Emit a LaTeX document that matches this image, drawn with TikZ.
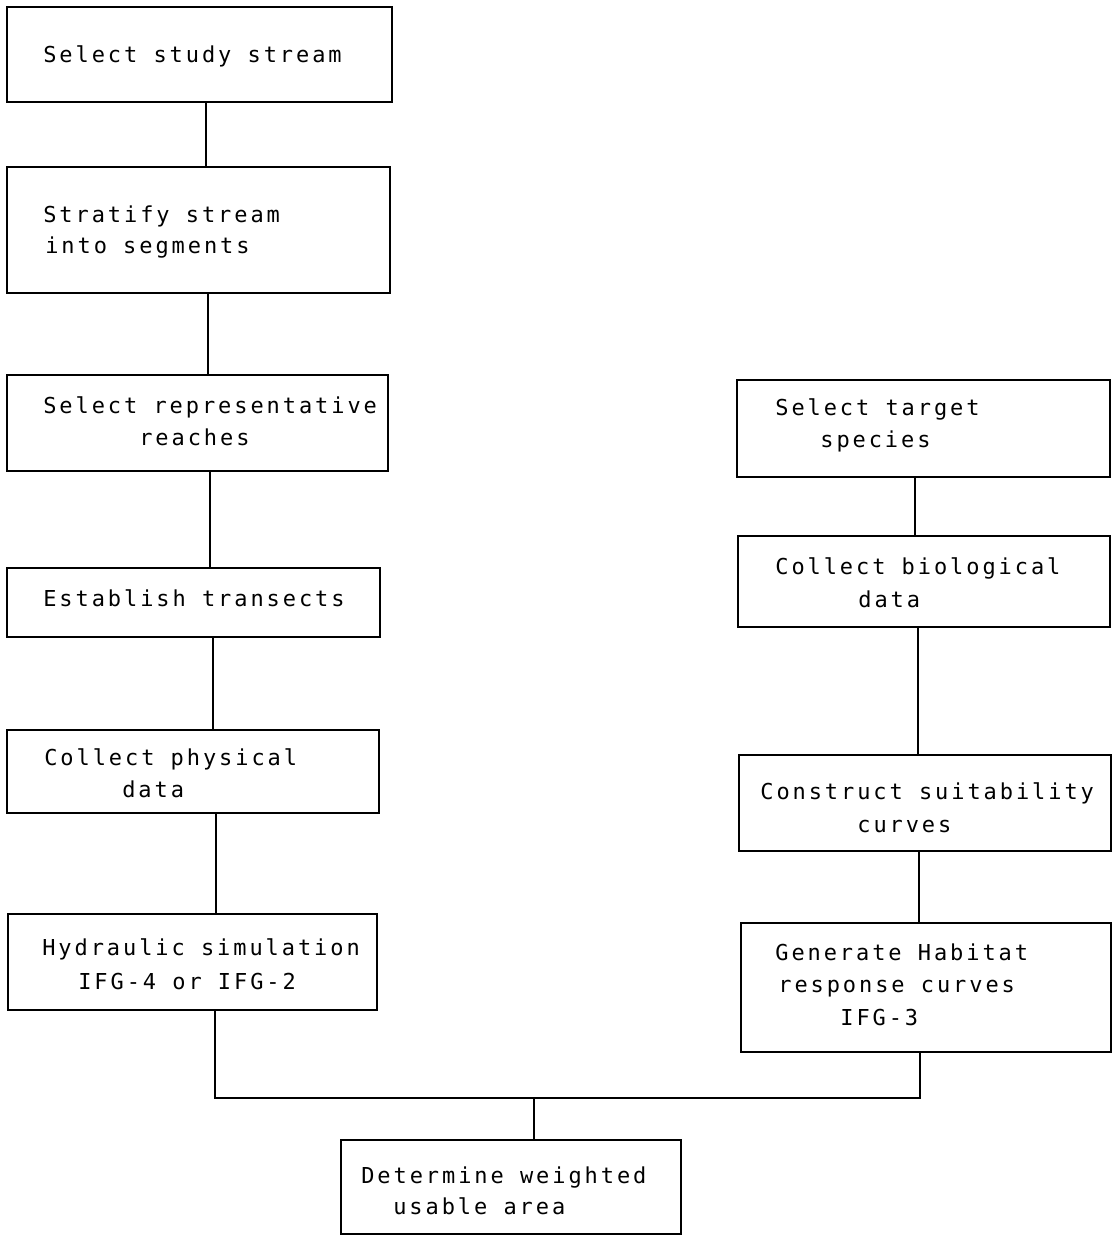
\documentclass[tikz,border=0pt]{standalone}
\usepackage{fontspec}
\newfontfamily\typewriter[LetterSpace=13.4]{DejaVu Sans Mono}
\usetikzlibrary{fit}

\tikzset{
  flowbox/.style={draw, line width=0.9pt, inner sep=0pt},
  txt/.style={anchor=base west, inner sep=0pt, font=\typewriter\fontsize{12.5pt}{15pt}\selectfont},
  link/.style={draw, line width=0.7pt}
}

\begin{document}
\begin{tikzpicture}[x=0.02cm, y=-0.02cm]
  \useasboundingbox (0,0) rectangle (1113,1237);

  % left column
  \node[flowbox, fit={(7,7) (392,102)}] (b1) {};
  \node[flowbox, fit={(7,167) (390,293)}] (b2) {};
  \node[flowbox, fit={(7,375) (388,471)}] (b3) {};
  \node[flowbox, fit={(7,568) (380,637)}] (b4) {};
  \node[flowbox, fit={(7,730) (379,813)}] (b5) {};
  \node[flowbox, fit={(8,914) (377,1010)}] (b6) {};

  % right column
  \node[flowbox, fit={(737,380) (1110,477)}] (b7) {};
  \node[flowbox, fit={(738,536) (1110,627)}] (b8) {};
  \node[flowbox, fit={(739,755) (1111,851)}] (b9) {};
  \node[flowbox, fit={(741,923) (1111,1052)}] (b10) {};

  % bottom
  \node[flowbox, fit={(341,1140) (681,1234)}] (b11) {};

  % texts
  \node[txt] (t1) at (43,63) {Select study stream};
  \node[txt] (t2a) at (43,222) {Stratify stream};
  \node[txt] (t2b) at (45,253) {into segments};
  \node[txt] (t3a) at (43,413) {Select representative};
  \node[txt] (t3b) at (139,445) {reaches};
  \node[txt] (t4) at (43,606) {Establish transects};
  \node[txt] (t5a) at (44,765) {Collect physical};
  \node[txt] (t5b) at (122,797) {data};
  \node[txt] (t6a) at (42,955) {Hydraulic simulation};
  \node[txt] (t6b) at (78,989) {IFG-4 or IFG-2};
  \node[txt] (t7a) at (775,415) {Select target};
  \node[txt] (t7b) at (820,447) {species};
  \node[txt] (t8a) at (775,574) {Collect biological};
  \node[txt] (t8b) at (858,607) {data};
  \node[txt] (t9a) at (760,799) {Construct suitability};
  \node[txt] (t9b) at (857,832) {curves};
  \node[txt] (t10a) at (775,960) {Generate Habitat};
  \node[txt] (t10b) at (778,992) {response curves};
  \node[txt] (t10c) at (840,1025) {IFG-3};
  \node[txt] (t11a) at (361,1183) {Determine weighted};
  \node[txt] (t11b) at (393,1214) {usable area};

  % connectors
  \draw[link] (b1.south -| 206,0) -- (b2.north -| 206,0);
  \draw[link] (b2.south -| 208,0) -- (b3.north -| 208,0);
  \draw[link] (b3.south -| 210,0) -- (b4.north -| 210,0);
  \draw[link] (b4.south -| 213,0) -- (b5.north -| 213,0);
  \draw[link] (b5.south -| 216,0) -- (b6.north -| 216,0);
  \draw[link] (b7.south -| 915,0) -- (b8.north -| 915,0);
  \draw[link] (b8.south -| 918,0) -- (b9.north -| 918,0);
  \draw[link] (b9.south -| 919,0) -- (b10.north -| 919,0);

  \coordinate (jl) at (215,1098);
  \coordinate (jr) at (920,1098);
  \coordinate (jm) at (534,1098);
  \draw[link] (b6.south -| jl) -- (jl) -- (jr) -- (b10.south -| jr);
  \draw[link] (jm) -- (b11.north -| jm);
\end{tikzpicture}
\end{document}
